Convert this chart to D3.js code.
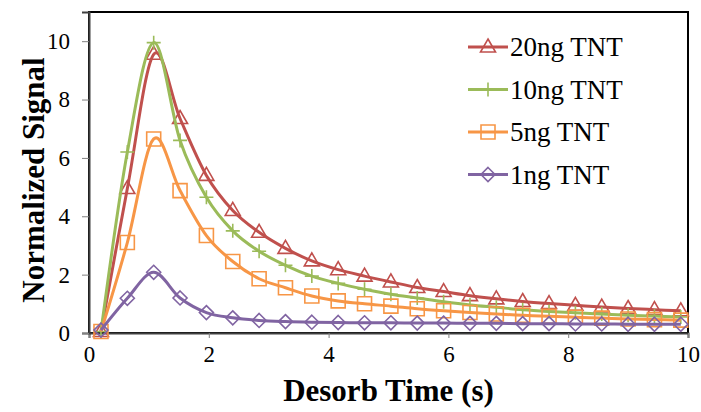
<!DOCTYPE html>
<html lang="en">
<head>
<meta charset="UTF-8">
<script src="https://d3js.org/d3.v7.min.js"></script>
<style>
  body { margin: 0; background: #fff; }
</style>
</head>
<body>
<div id="chart"></div>
<script>
  // desorb time (s)
  var times = [0.2, 0.64, 1.08, 1.52, 1.96, 2.4, 2.84, 3.28, 3.72, 4.16, 4.6, 5.04,
               5.48, 5.92, 6.36, 6.8, 7.24, 7.68, 8.12, 8.56, 9.0, 9.44, 9.88];

  var tnt20 = [0.05, 4.95, 9.55, 7.35, 5.4, 4.2, 3.45, 2.9, 2.47, 2.17, 1.95, 1.75,
               1.56, 1.42, 1.28, 1.17, 1.08, 1.01, 0.95, 0.89, 0.84, 0.8, 0.76];
  var tnt10 = [0.05, 6.2, 9.95, 6.6, 4.65, 3.5, 2.8, 2.32, 1.95, 1.7, 1.5, 1.33,
               1.2, 1.07, 0.96, 0.88, 0.8, 0.74, 0.69, 0.65, 0.61, 0.58, 0.55];
  var tnt5  = [0.05, 3.1, 6.65, 4.88, 3.34, 2.45, 1.86, 1.55, 1.27, 1.1, 1.0, 0.92,
               0.83, 0.76, 0.7, 0.65, 0.61, 0.57, 0.54, 0.51, 0.48, 0.46, 0.44];
  var tnt1  = [0.1, 1.19, 2.08, 1.2, 0.7, 0.52, 0.43, 0.39, 0.37, 0.36, 0.35, 0.35,
               0.34, 0.34, 0.33, 0.33, 0.32, 0.32, 0.31, 0.31, 0.3, 0.3, 0.3];

  var names = ["20ng TNT", "10ng TNT", "5ng TNT", "1ng TNT"];
  var xTicks = [0, 2, 4, 6, 8, 10];
  var yTicks = [0, 2, 4, 6, 8, 10];

  var colors = ["#C0504D", "#9BBB59", "#F79646", "#8064A2"];
  var shapes = ["triangle", "plus", "square", "diamond"];
  var font = "Liberation Serif";

  function markerPath(shape) {
    if (shape == "triangle") return "M0,-8L7.5,5L-7.5,5Z";
    if (shape == "square") return "M-7,-7H7V7H-7Z";
    if (shape == "diamond") return "M0,-7L7,0L0,7L-7,0Z";
    return "M-7,0H7M0,-7V7";
  }

  var width = 701, height = 412;
  var margin = {top: 12, right: 13, bottom: 79, left: 89};

  var svg = d3.select("#chart").append("svg")
      .attr("width", width)
      .attr("height", height);

  var x = d3.scaleLinear().domain([0, 10]).range([margin.left, width - margin.right]);
  var y = d3.scaleLinear().domain([0, 11]).range([height - margin.bottom, margin.top]);

  // plot frame
  svg.append("rect")
      .attr("x", x(0))
      .attr("y", y(11))
      .attr("width", x(10) - x(0))
      .attr("height", y(0) - y(11))
      .attr("fill", "none")
      .attr("stroke", "#000")
      .attr("stroke-width", 2);

  var xAxis = svg.append("g")
      .attr("transform", "translate(0," + y(0) + ")")
      .call(d3.axisBottom(x).tickValues(xTicks).tickSize(5).tickPadding(8));
  var yAxis = svg.append("g")
      .attr("transform", "translate(" + x(0) + ",0)")
      .call(d3.axisLeft(y).tickValues(yTicks).tickSize(7).tickPadding(12));

  [xAxis, yAxis].forEach(function(a) {
    a.attr("font-family", font).attr("font-size", 23);
    a.select(".domain").attr("stroke", "#404040").attr("stroke-width", 2);
    a.selectAll(".tick line").attr("stroke", "#808080");
    a.selectAll(".tick text")
        .attr("font-family", font)
        .attr("fill", "#000");
  });

  svg.append("text")
      .attr("x", (x(0) + x(10)) / 2)
      .attr("y", 401)
      .attr("text-anchor", "middle")
      .attr("font-family", font)
      .attr("font-size", 31)
      .attr("font-weight", "bold")
      .text("Desorb Time (s)");

  svg.append("text")
      .attr("transform", "translate(44," + 180 + ") rotate(-90)")
      .attr("text-anchor", "middle")
      .attr("font-family", font)
      .attr("font-size", 31)
      .attr("font-weight", "bold")
      .text("Normalized Signal");

  var series = [tnt20, tnt10, tnt5, tnt1];

  var line = d3.line()
      .x(function(d, i) { return x(times[i]); })
      .y(function(d) { return y(d); })
      .curve(d3.curveCardinal.tension(0));

  series.forEach(function(values, k) {
    var g = svg.append("g");
    g.append("path")
        .attr("d", line(values))
        .attr("fill", "none")
        .attr("stroke", colors[k])
        .attr("stroke-width", 3);
    g.selectAll("path.mark")
        .data(values)
        .enter()
        .append("path")
        .attr("class", "mark")
        .attr("d", markerPath(shapes[k]))
        .attr("transform", function(d, i) { return "translate(" + x(times[i]) + "," + y(d) + ")"; })
        .attr("fill", "none")
        .attr("stroke", colors[k])
        .attr("stroke-width", 1.6);
  });

  // legend
  var legend = svg.append("g");
  names.forEach(function(name, k) {
    var cy = 47 + k * 42.5;
    legend.append("line")
        .attr("x1", 468).attr("x2", 508)
        .attr("y1", cy).attr("y2", cy)
        .attr("stroke", colors[k])
        .attr("stroke-width", 3);
    legend.append("path")
        .attr("d", markerPath(shapes[k]))
        .attr("transform", "translate(488," + cy + ")")
        .attr("fill", "none")
        .attr("stroke", colors[k])
        .attr("stroke-width", 1.6);
    legend.append("text")
        .attr("x", 510)
        .attr("y", cy + 9)
        .attr("font-family", font)
        .attr("font-size", 27)
        .text(name);
  });
</script>
</body>
</html>
